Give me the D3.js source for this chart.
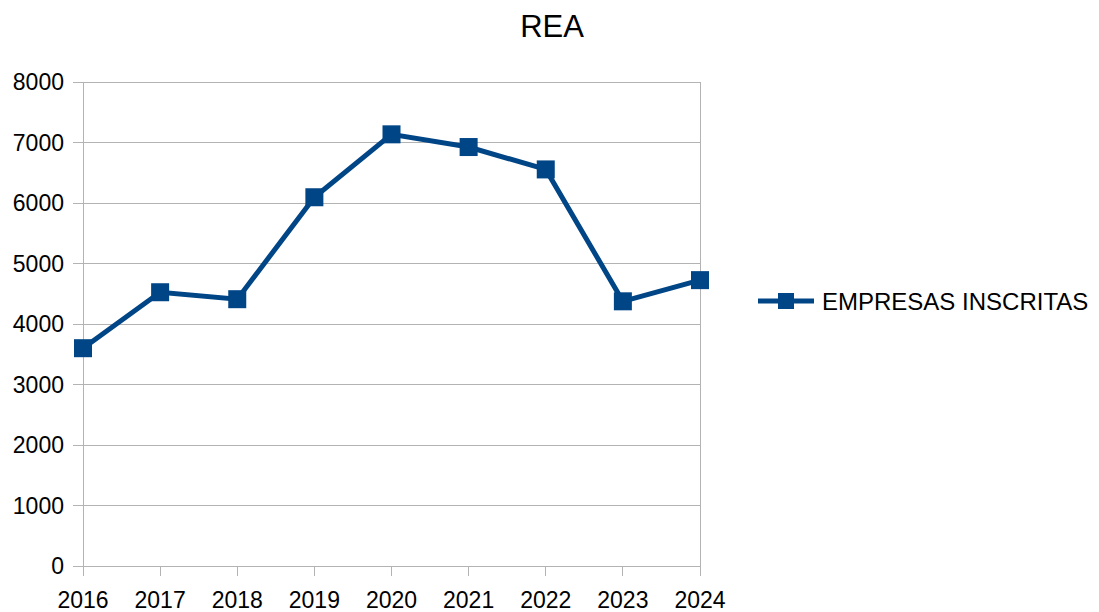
<!DOCTYPE html>
<html><head><meta charset="utf-8">
<script src="https://cdn.jsdelivr.net/npm/d3@7"></script>
<style>body{margin:0;background:#fff}svg{display:block}text{font-family:"Liberation Sans",Arial,sans-serif;fill:#000}</style>
</head><body><svg id="c" width="1099" height="612"></svg>
<script>
const years = ["2016","2017","2018","2019","2020","2021","2022","2023","2024"];
const empresasInscritas = [3600, 4525, 4410, 6095, 7135, 6925, 6555, 4375, 4725];
const yTicks = [0,1000,2000,3000,4000,5000,6000,7000,8000];
const seriesName = "EMPRESAS INSCRITAS";
const title = "REA";

const svg = d3.select("#c");
const L = 83, R = 700, T = 82, B = 566;
const color = "#004586", grid = "#b3b3b3";
const x = d3.scalePoint().domain(years).range([L, R]);
const y = d3.scaleLinear().domain([0, 8000]).range([B, T]);

// grid
svg.append("g").selectAll("line").data(yTicks).join("line")
  .attr("x1", L - 10).attr("x2", R).attr("y1", d => y(d)).attr("y2", d => y(d))
  .attr("stroke", grid).attr("stroke-width", 1).attr("shape-rendering","crispEdges");
// axes lines
svg.append("line").attr("x1", L).attr("x2", L).attr("y1", T).attr("y2", B + 10).attr("stroke", grid).attr("shape-rendering","crispEdges");
svg.append("line").attr("x1", R).attr("x2", R).attr("y1", T).attr("y2", B + 10).attr("stroke", grid).attr("shape-rendering","crispEdges");
svg.append("g").selectAll("line").data(years).join("line")
  .attr("x1", d => x(d)).attr("x2", d => x(d)).attr("y1", B).attr("y2", B + 10)
  .attr("stroke", grid).attr("shape-rendering","crispEdges");

// y labels
svg.append("g").selectAll("text").data(yTicks).join("text")
  .attr("x", 64).attr("y", d => y(d)).attr("dy", "0.36em")
  .attr("text-anchor", "end").style("font-size", "23px").text(d => d);
// x labels
svg.append("g").selectAll("text").data(years).join("text")
  .attr("x", d => x(d)).attr("y", 608)
  .attr("text-anchor", "middle").style("font-size", "23px").text(d => d);

// title
svg.append("text").attr("x", 552).attr("y", 37).attr("text-anchor", "middle")
  .style("font-size", "31px").text(title);

// line
const line = d3.line().x((d, i) => x(years[i])).y(d => y(d));
svg.append("path").datum(empresasInscritas).attr("d", line)
  .attr("fill", "none").attr("stroke", color).attr("stroke-width", 5).attr("stroke-linejoin", "miter");
const ms = 18;
svg.append("g").selectAll("rect").data(empresasInscritas).join("rect")
  .attr("x", (d, i) => x(years[i]) - ms / 2).attr("y", d => y(d) - ms / 2)
  .attr("width", ms).attr("height", ms).attr("fill", color);

// legend
const ly = 301;
svg.append("line").attr("x1", 758).attr("x2", 814).attr("y1", ly).attr("y2", ly)
  .attr("stroke", color).attr("stroke-width", 5);
svg.append("rect").attr("x", 778).attr("y", ly - 8).attr("width", 16).attr("height", 16).attr("fill", color);
svg.append("text").attr("x", 822).attr("y", ly).attr("dy", "0.36em")
  .style("font-size", "24px").text(seriesName);
</script></body></html>
